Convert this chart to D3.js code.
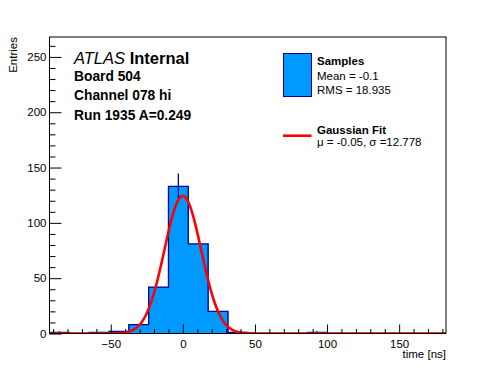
<!DOCTYPE html>
<html lang="en">
<head>
  <meta charset="UTF-8" />
  <title>Board 504 timing histogram</title>
  <script src="https://d3js.org/d3.v7.min.js"></script>
  <style>
    body {
      margin: 0;
      background: #fff;
    }
    svg {
      display: block;
      font-family: "Liberation Sans", Arial, Helvetica, sans-serif;
    }
    .axis text {
      font-size: 11.5px;
      fill: #000;
    }
    .axis path, .axis line {
      stroke: #000;
    }
  </style>
</head>
<body>
  <svg></svg>

  <script>
    // histogram: bin edges in ns and entries per bin
    const binEdges = [-92.5, -78.75, -65, -51.25, -37.5, -23.75, -10, 3.75, 17.5, 31.25,
                      45, 58.75, 72.5, 86.25, 100, 113.75, 127.5, 141.25, 155, 168.75, 182.5];
    const counts = [1, 0, 1, 2, 8, 42, 133, 81, 20, 1, 0, 0, 0, 1, 0, 0, 0, 0, 0, 0];
    // bins whose error bar shows in the picture
    const errorBins = [0, 6, 13];

    // gaussian fit parameters
    const fitAmp = 124.3;
    const fitMean = -0.05;
    const fitSigma = 12.778;

    const xTicks = [-50, 0, 50, 100, 150];
    const yTicks = [0, 50, 100, 150, 200, 250];
    const xDomain = [-92.5, 182.5];
    const yDomain = [0, 268];

    const labelLines = ["Board 504", "Channel 078 hi", "Run 1935 A=0.249"];

    const width = 496;
    const height = 372;
    const m = { left: 49.5, right: 446, top: 37, bottom: 333.5 };

    const fillColor = "#0099ff";
    const lineColor = "#000099";

    const svg = d3.select("svg")
      .attr("width", width)
      .attr("height", height);

    const x = d3.scaleLinear().domain(xDomain).range([m.left, m.right]);
    const y = d3.scaleLinear().domain(yDomain).range([m.bottom, m.top]);

    svg.append("defs").append("clipPath").attr("id", "frame")
      .append("rect")
      .attr("x", m.left).attr("y", m.top)
      .attr("width", m.right - m.left).attr("height", m.bottom - m.top);

    const bins = counts.map((c, i) => ({ x0: binEdges[i], x1: binEdges[i + 1], n: c }));

    const plot = svg.append("g").attr("clip-path", "url(#frame)");

    // filled bars (slightly overlapped so no seams show)
    plot.selectAll("rect.bin")
      .data(bins.filter(d => d.n > 0))
      .enter()
      .append("rect")
      .attr("class", "bin")
      .attr("x", d => x(d.x0))
      .attr("width", d => x(d.x1) - x(d.x0) + 0.6)
      .attr("y", d => y(d.n))
      .attr("height", d => y(0) - y(d.n))
      .attr("fill", fillColor);

    // staircase outline
    const stepPts = bins.map(d => [d.x0, d.n]).concat([[binEdges[binEdges.length - 1], 0]]);
    plot.append("path")
      .datum([[binEdges[0], 0]].concat(stepPts))
      .attr("fill", "none")
      .attr("stroke", lineColor)
      .attr("stroke-width", 1.3)
      .attr("d", d3.line()
        .x(d => x(d[0]))
        .y(d => y(d[1]))
        .curve(d3.curveStepAfter));

    // error bars
    plot.selectAll("line.err")
      .data(errorBins.map(i => bins[i]))
      .enter()
      .append("line")
      .attr("class", "err")
      .attr("x1", d => x((d.x0 + d.x1) / 2))
      .attr("x2", d => x((d.x0 + d.x1) / 2))
      .attr("y1", d => y(d.n - Math.sqrt(d.n)))
      .attr("y2", d => y(d.n + Math.sqrt(d.n)))
      .attr("stroke", lineColor)
      .attr("stroke-width", 1.3);

    // gaussian fit curve
    const gx = d3.range(xDomain[0], xDomain[1] + 0.5, 0.5);
    const gauss = v => fitAmp * Math.exp(-0.5 * ((v - fitMean) / fitSigma) ** 2);
    plot.append("path")
      .datum(gx)
      .attr("fill", "none")
      .attr("stroke", "#ff0000")
      .attr("stroke-width", 2.6)
      .attr("d", d3.line().x(d => x(d)).y(d => y(gauss(d))));

    // frame
    svg.append("rect")
      .attr("x", m.left).attr("y", m.top)
      .attr("width", m.right - m.left).attr("height", m.bottom - m.top)
      .attr("fill", "none")
      .attr("stroke", "#000")
      .attr("stroke-width", 1);

    // axes (ticks point inwards like ROOT)
    const xMinor = d3.range(-90, 181, 10).filter(v => !xTicks.includes(v));
    const yMinor = d3.range(0, 268, 10).filter(v => !yTicks.includes(v));

    svg.append("g")
      .attr("class", "axis")
      .attr("transform", `translate(0,${m.bottom})`)
      .call(d3.axisBottom(x).tickValues(xTicks).tickSize(-9).tickPadding(6)
        .tickFormat(d => d < 0 ? "\u2212" + Math.abs(d) : d))
      .call(g => g.select(".domain").remove());

    svg.append("g")
      .attr("class", "axis")
      .attr("transform", `translate(0,${m.bottom})`)
      .call(d3.axisBottom(x).tickValues(xMinor).tickSize(-4.5).tickFormat(""))
      .call(g => g.select(".domain").remove());

    svg.append("g")
      .attr("class", "axis")
      .attr("transform", `translate(${m.left},0)`)
      .call(d3.axisLeft(y).tickValues(yTicks).tickSize(-12).tickPadding(3))
      .call(g => g.select(".domain").remove());

    svg.append("g")
      .attr("class", "axis")
      .attr("transform", `translate(${m.left},0)`)
      .call(d3.axisLeft(y).tickValues(yMinor).tickSize(-6).tickFormat(""))
      .call(g => g.select(".domain").remove());

    // axis titles
    svg.append("text")
      .attr("x", m.right)
      .attr("y", 358)
      .attr("text-anchor", "end")
      .style("font-size", "11.5px")
      .text("time [ns]");

    svg.append("text")
      .attr("transform", `translate(17,${m.top}) rotate(-90)`)
      .attr("text-anchor", "end")
      .style("font-size", "11.5px")
      .text("Entries");

    // ATLAS label block
    const atlas = svg.append("text")
      .attr("x", 74)
      .attr("y", 63.5)
      .style("font-size", "16.5px");
    atlas.append("tspan").style("font-style", "italic").text("ATLAS");
    atlas.append("tspan").style("font-weight", "bold").text(" Internal");

    svg.selectAll("text.info")
      .data(labelLines)
      .enter()
      .append("text")
      .attr("class", "info")
      .attr("x", 74)
      .attr("y", (d, i) => 81 + i * 19.3)
      .style("font-size", "13.8px")
      .style("font-weight", "bold")
      .text(d => d);

    // legend
    const leg = svg.append("g");
    leg.append("rect")
      .attr("x", 283.5).attr("y", 53.5)
      .attr("width", 28).attr("height", 43)
      .attr("fill", fillColor)
      .attr("stroke", lineColor)
      .attr("stroke-width", 1);
    leg.append("text").attr("x", 317).attr("y", 65)
      .style("font-size", "11.5px").style("font-weight", "bold").text("Samples");
    leg.append("text").attr("x", 317).attr("y", 79.5)
      .style("font-size", "11.5px").text("Mean = -0.1");
    leg.append("text").attr("x", 317).attr("y", 93.5)
      .style("font-size", "11.5px").text("RMS = 18.935");

    leg.append("line")
      .attr("x1", 283).attr("x2", 311.5)
      .attr("y1", 135.7).attr("y2", 135.7)
      .attr("stroke", "#ff0000")
      .attr("stroke-width", 2.6);
    leg.append("text").attr("x", 317).attr("y", 133.5)
      .style("font-size", "11.5px").style("font-weight", "bold").text("Gaussian Fit");
    leg.append("text").attr("x", 317).attr("y", 146)
      .style("font-size", "11.5px").text("\u03bc = -0.05, \u03c3 =12.778");
  </script>
</body>
</html>
